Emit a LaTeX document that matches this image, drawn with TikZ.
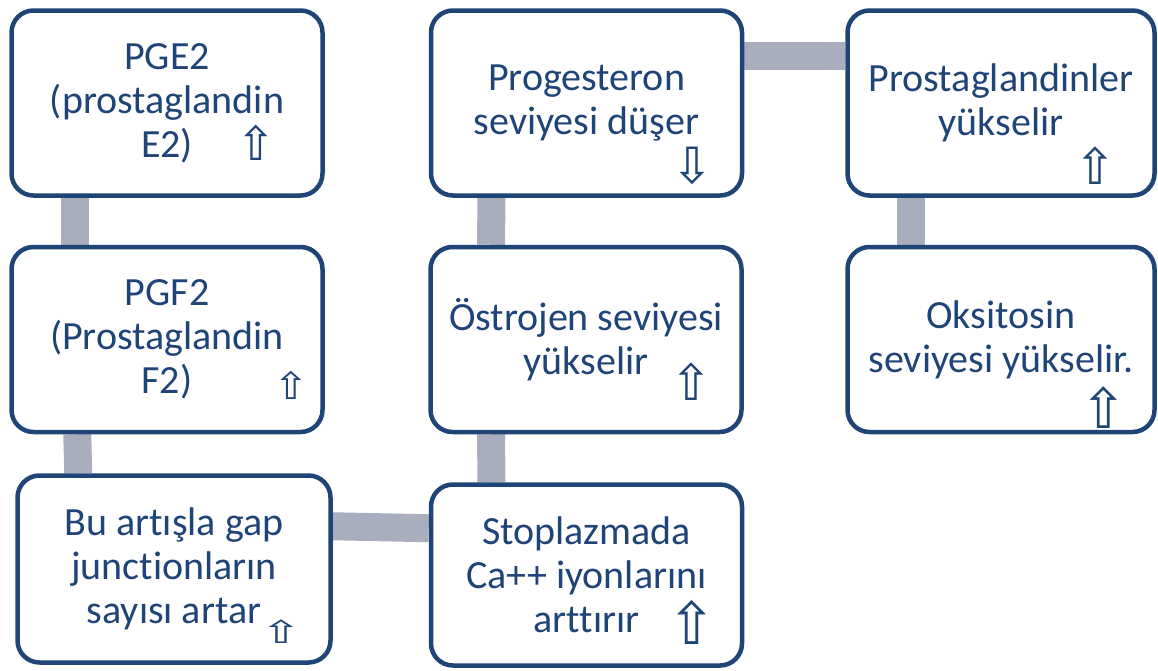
\documentclass[tikz,border=0pt]{standalone}
\usepackage{fontspec}
\setmainfont{Carlito}[Ligatures=NoCommon]
\newfontfamily\arrowfont{DejaVu Sans}
\usetikzlibrary{backgrounds}
\definecolor{boxblue}{RGB}{31,69,118}
\definecolor{txtblue}{RGB}{31,68,120}
\definecolor{bargrey}{RGB}{168,174,189}
\begin{document}
\begin{tikzpicture}[x=1pt,y=-1pt,
  box/.style={draw=boxblue, line width=4.5pt, rounded corners=22pt, fill=white,
    minimum width=311pt, minimum height=185pt, inner sep=0pt, align=center,
    text=txtblue, font=\fontsize{40}{44}\selectfont},
  arr/.style={inner sep=0pt, text=boxblue, font=\arrowfont\fontsize{50}{50}\selectfont},
  bar/.style={draw=bargrey, line width=28pt}]
\useasboundingbox (0,0) rectangle (1158,670);
\node[box] (b1) at (167,103) {PGE2\\(prostaglandin\\E2)};
\node[box] (b2) at (167,339.5) {PGF2\\(Prostaglandin\\F2)};
\node[box, minimum width=313pt, minimum height=187pt] (b3) at (174,569) {Bu artışla gap\\junctionların\\sayısı artar};
\node[box] (b4) at (586.5,103) {Progesteron\\seviyesi düşer};
\node[box] (b5) at (586,339.5) {Östrojen seviyesi\\yükselir};
\node[box, minimum height=181pt] (b6) at (586.5,575) {Stoplazmada\\Ca++ iyonlarını\\arttırır};
\node[box, minimum width=307pt] (b7) at (1001,103) {Prostaglandinler\\yükselir};
\node[box, minimum width=307pt] (b8) at (1001,339.5) {Oksitosin\\seviyesi yükselir.};
\node[arr, scale=0.94] (a1) at (256,143) {⇧};
\node[arr, xscale=0.85, yscale=0.75] (a2) at (291,385) {⇧};
\node[arr, xscale=1.0, yscale=0.63] (a3) at (281,632) {⇧};
\node[arr] (a4) at (692,166) {⇩};
\node[arr] (a5) at (691,382) {⇧};
\node[arr, scale=1.17] (a6) at (692,622) {⇧};
\node[arr] (a7) at (1095,166) {⇧};
\node[arr, scale=1.11] (a8) at (1104,408) {⇧};
\begin{scope}[on background layer]
\draw[bar] ([xshift=66pt]b1.south west) -- ([xshift=66pt]b2.north west);
\draw[bar] ([xshift=68pt]b2.south west) -- ([xshift=63pt]b3.north west);
\draw[bar] ([yshift=-53pt]b3.north east) -- ([yshift=-46pt]b6.north west);
\draw[bar] ([xshift=-95pt]b6.north) -- ([xshift=-95pt]b5.south);
\draw[bar] ([xshift=-95pt]b5.north) -- ([xshift=-95pt]b4.south);
\draw[bar] ([yshift=-48pt]b4.north east) -- ([yshift=-48pt]b7.north west);
\draw[bar] ([xshift=-90pt]b7.south) -- ([xshift=-90pt]b8.north);
\end{scope}
\end{tikzpicture}
\end{document}
